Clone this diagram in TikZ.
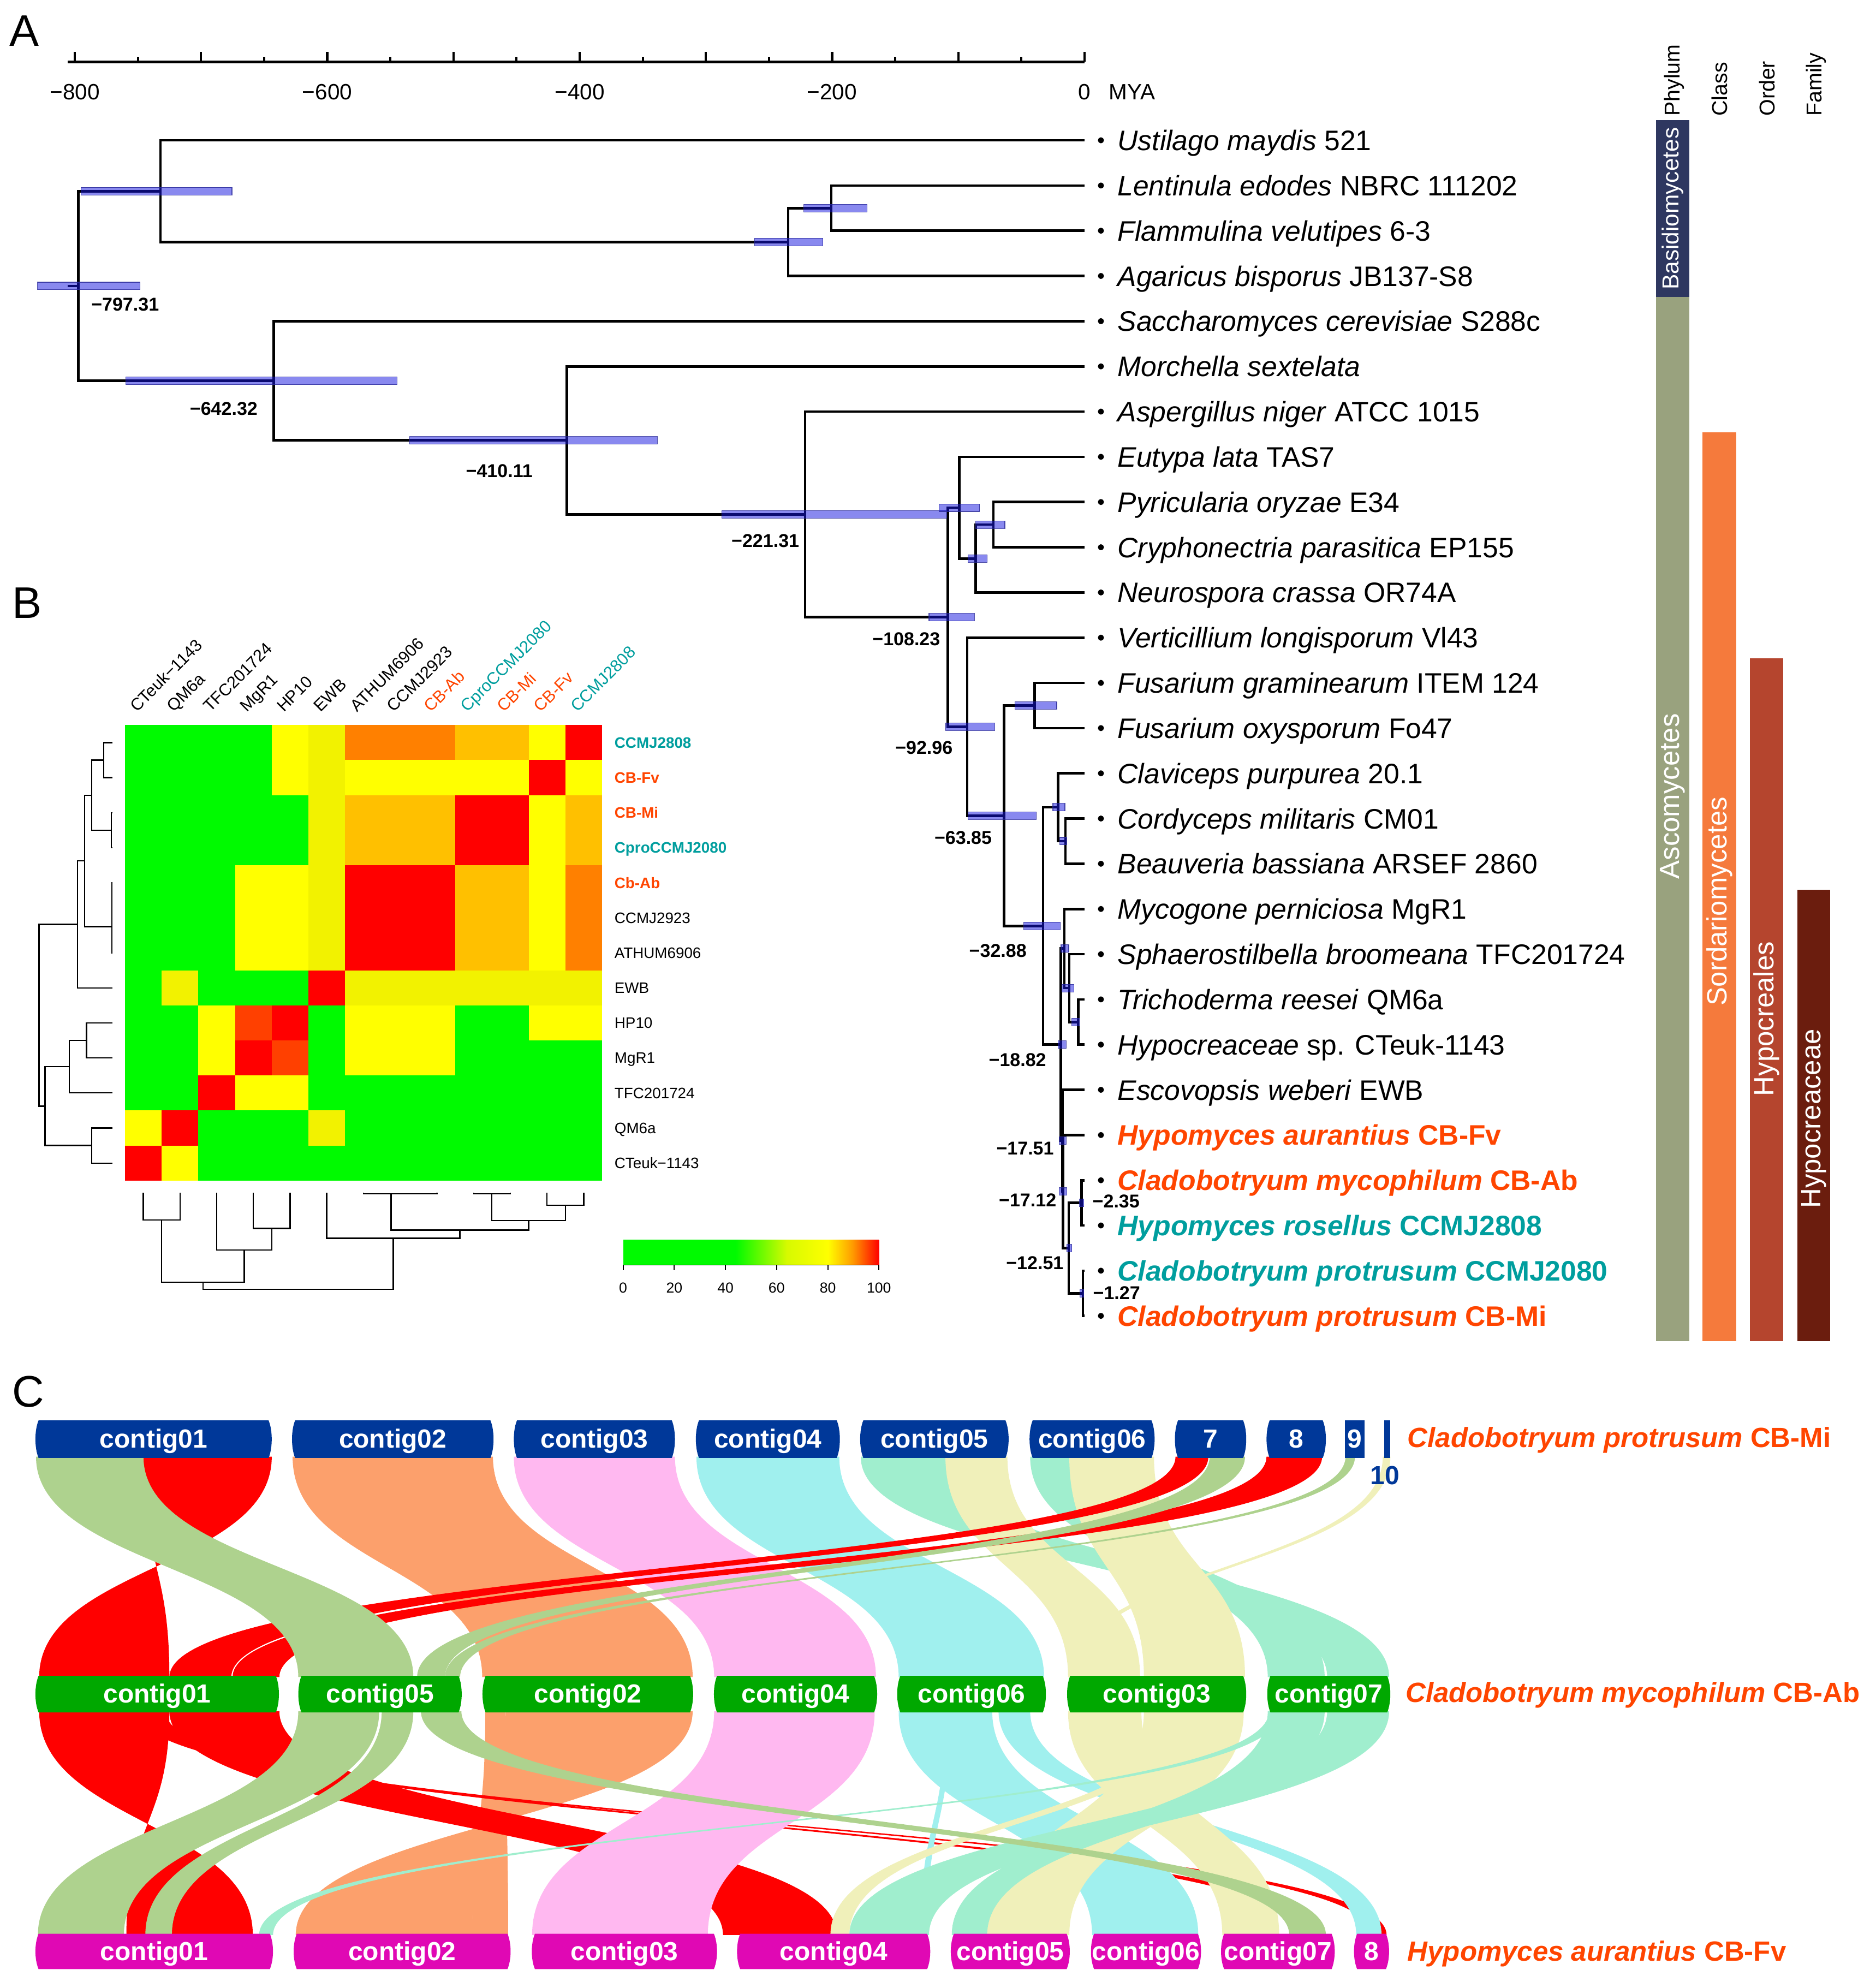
\documentclass[tikz,border=0pt]{standalone}
\usepackage{fontspec}
\setmainfont{Liberation Sans}
\usetikzlibrary{calc}
\definecolor{cbred}{RGB}{255,69,0}
\definecolor{cbteal}{RGB}{0,158,158}
\definecolor{hpdfill}{RGB}{20,20,225}
\definecolor{hpdline}{RGB}{40,40,150}
\definecolor{basid}{RGB}{46,55,96}
\definecolor{ascom}{RGB}{153,162,126}
\definecolor{sorda}{RGB}{245,122,60}
\definecolor{hypal}{RGB}{181,69,46}
\definecolor{hypac}{RGB}{107,29,14}
\definecolor{hmg}{RGB}{0,250,0}
\definecolor{hmy}{RGB}{255,255,0}
\definecolor{hmY}{RGB}{242,242,0}
\definecolor{hmo}{RGB}{255,128,0}
\definecolor{hma}{RGB}{255,192,0}
\definecolor{hmr}{RGB}{255,0,0}
\definecolor{hms}{RGB}{255,64,0}
\definecolor{kyg}{RGB}{215,250,0}
\definecolor{kyo}{RGB}{255,150,0}
\definecolor{chrB}{RGB}{0,56,153}
\definecolor{chrG}{RGB}{0,168,0}
\definecolor{chrM}{RGB}{224,8,180}
\definecolor{rRed}{RGB}{255,0,0}
\definecolor{rSage}{RGB}{174,210,142}
\definecolor{rOra}{RGB}{252,160,108}
\definecolor{rPink}{RGB}{255,184,240}
\definecolor{rCyan}{RGB}{160,240,238}
\definecolor{rMint}{RGB}{160,238,206}
\definecolor{rYel}{RGB}{240,240,186}
\newcommand\fsz[1]{\fontsize{#1pt}{#1pt}\selectfont}
\newcommand\rib[7]{\fill[#1] (#4,#2) .. controls (#4,{(#2+#3)/2}) and (#6,{(#2+#3)/2}) .. (#6,#3) -- (#7,#3) .. controls (#7,{(#2+#3)/2}) and (#5,{(#2+#3)/2}) .. (#5,#2) -- cycle;}
\newcommand\ribA[5]{\rib{#1}{1152.4}{1326.8}{#2}{#3}{#4}{#5}}
\newcommand\ribB[5]{\rib{#1}{1353.7}{1530.8}{#2}{#3}{#4}{#5}}
\newcommand\ctg[7]{\fill[#6] ({#2+2.5},#4) -- ({#3-2.5},#4) .. controls ({#3+0.8},{#4+8}) and ({#3+0.8},{#5-8}) .. ({#3-2.5},#5) -- ({#2+2.5},#5) .. controls ({#2-0.8},{#5-8}) and ({#2-0.8},{#4+8}) .. ({#2+2.5},#4) -- cycle;
\node[ctgtxt] (#1) at ({(#2+#3)/2},{(#4+#5)/2+7}) {#7};}
\newcommand\ctgT[4]{\ctg{#1}{#2}{#3}{1123.7}{1153.4}{chrB}{#4}}
\newcommand\ctgM[4]{\ctg{#1}{#2}{#3}{1325.8}{1354.7}{chrG}{#4}}
\newcommand\ctgB[4]{\ctg{#1}{#2}{#3}{1529.8}{1557.8}{chrM}{#4}}

\begin{document}
\begin{tikzpicture}[x=1pt,y=-1pt,
  branch/.style={line width=2pt},
  hpd/.style={fill=hpdfill, fill opacity=0.5, draw=hpdline, draw opacity=0.8, line width=0.5pt},
  tipl/.style={anchor=base west, inner sep=0, font=\fsz{22.3}},
  tipr/.style={tipl, text=cbred, font=\bfseries\fsz{22.3}},
  tipt/.style={tipl, text=cbteal, font=\bfseries\fsz{22.3}},
  agel/.style={inner sep=0, font=\bfseries\fsz{14.7}},
  axl/.style={inner sep=0, font=\fsz{17.5}},
  panl/.style={anchor=base west, inner sep=0, font=\fsz{35}},
  taxl/.style={rotate=90, text=white, inner sep=0, font=\fsz{22}},
  taxh/.style={rotate=90, anchor=west, inner sep=0, font=\fsz{17}},
  rowl/.style={anchor=base west, inner sep=0, font=\fsz{12}},
  coll/.style={anchor=base west, rotate=45, inner sep=0, font=\fsz{13.3}},
  keyl/.style={anchor=base, inner sep=0, font=\fsz{11.5}},
  dend/.style={line width=1pt},
  ctgtxt/.style={anchor=base, inner sep=0, text=white, font=\bfseries\fsz{20.7}},
  spl/.style={anchor=base west, inner sep=0, text=cbred, font=\bfseries\fsz{22}}]
\useasboundingbox (0,0) rectangle (1484,1568);
\fill[white] (0,0) rectangle (1484,1568);

% ---------------- panel labels
\node[panl] (PA) at (7.5,36.4) {A};
\node[panl] (PB) at (9.5,489) {B};
\node[panl] (PC) at (9.5,1113) {C};

% ---------------- time axis
\draw[line width=2pt] (53.6,49) -- (858,49);
\foreach \t in {-800,-700,...,0} \draw[line width=1.8pt] ({858+\t*0.9985},49) -- ++(0,-8);
\foreach \t in {-750,-650,...,-50} \draw[line width=1.8pt] ({858+\t*0.9985},49) -- ++(0,-4);
\node[axl] (ax8) at (59.2,72.8) {−800};
\node[axl] (ax6) at (258.9,72.8) {−600};
\node[axl] (ax4) at (458.6,72.8) {−400};
\node[axl] (ax2) at (658.3,72.8) {−200};
\node[axl] (ax0) at (858,72.8) {0};
\node[axl, anchor=west] (axm) at (877,72.8) {MYA};

% ---------------- tree coordinates
\coordinate (t1) at (858,111.00);
\coordinate (t2) at (858,146.77);
\coordinate (t3) at (858,182.54);
\coordinate (t4) at (858,218.31);
\coordinate (t5) at (858,254.08);
\coordinate (t6) at (858,289.85);
\coordinate (t7) at (858,325.62);
\coordinate (t8) at (858,361.39);
\coordinate (t9) at (858,397.16);
\coordinate (t10) at (858,432.93);
\coordinate (t11) at (858,468.70);
\coordinate (t12) at (858,504.47);
\coordinate (t13) at (858,540.24);
\coordinate (t14) at (858,576.01);
\coordinate (t15) at (858,611.78);
\coordinate (t16) at (858,647.55);
\coordinate (t17) at (858,683.32);
\coordinate (t18) at (858,719.09);
\coordinate (t19) at (858,754.86);
\coordinate (t20) at (858,790.63);
\coordinate (t21) at (858,826.40);
\coordinate (t22) at (858,862.17);
\coordinate (t23) at (858,897.94);
\coordinate (t24) at (858,933.71);
\coordinate (t25) at (858,969.48);
\coordinate (t26) at (858,1005.25);
\coordinate (t27) at (858,1041.02);
\coordinate (nLF) at (657.7,164.66);
\coordinate (nAg) at (623.6,191.49);
\coordinate (nBa) at (127,151.24);
\coordinate (nR) at (61.9,226.24);
\coordinate (n642) at (216.6,301.24);
\coordinate (n410) at (448.5,348.40);
\coordinate (n221) at (637,406.94);
\coordinate (n108) at (749.9,488.26);
\coordinate (nE) at (759,401.63);
\coordinate (nPCN) at (772,441.87);
\coordinate (nPC) at (786,415.05);
\coordinate (n93) at (765.2,574.90);
\coordinate (n64) at (794.25,645.32);
\coordinate (nFu) at (818.6,558.13);
\coordinate (n33) at (825.2,732.50);
\coordinate (nCl) at (837,638.61);
\coordinate (nCB) at (843,665.44);
\coordinate (n18) at (839.2,826.40);
\coordinate (nMy) at (842,750.39);
\coordinate (nSp) at (846,781.69);
\coordinate (nTH) at (853,808.52);
\coordinate (n17a) at (840.5,902.42);
\coordinate (n17b) at (840.9,942.66);
\coordinate (n12) at (845.5,987.37);
\coordinate (n2) at (855.65,951.60);
\coordinate (n1) at (856.7,1023.14);

\draw[branch] (53.5,226.24) -- (nR);
\foreach \p/\c in {nR/nBa,nR/n642,nBa/t1,nBa/nAg,nAg/nLF,nAg/t4,nLF/t2,nLF/t3,
  n642/t5,n642/n410,n410/t6,n410/n221,n221/t7,n221/n108,n108/nE,n108/n93,
  nE/t8,nE/nPCN,nPCN/nPC,nPCN/t11,nPC/t9,nPC/t10,n93/t12,n93/n64,n64/nFu,n64/n33,
  nFu/t13,nFu/t14,n33/nCl,n33/n18,nCl/t15,nCl/nCB,nCB/t16,nCB/t17,n18/nMy,n18/n17a,
  nMy/t18,nMy/nSp,nSp/t19,nSp/nTH,nTH/t20,nTH/t21,n17a/t22,n17a/n17b,n17b/t23,n17b/n12,
  n12/n2,n12/n1,n2/t24,n2/t25,n1/t26,n1/t27}
  \draw[branch] (\p) |- (\c);

% HPD bars
\foreach \yy/\aa/\bb in {226.24/29.7/110.9,151.24/64/183.5,164.66/636/686,191.49/597/651,
  301.24/99.6/314,348.40/324/520,406.94/571/749,401.63/743/775,415.05/772/795,
  441.87/766/781,488.26/735/771,574.90/748/787,558.13/803/836,645.32/766/820,
  732.50/810/839,638.61/833/842.5,665.44/838.5/844,750.39/839.5/845.5,781.69/840/849.5,
  808.52/848/854,826.40/837/843.5,902.42/838/843.5,942.66/838/844,987.37/844/848,
  951.60/854/857.5,1023.14/854.5/857.5}
  \path[hpd] (\aa,{\yy-3}) rectangle (\bb,{\yy+3});

% age labels
\node[agel] (a1) at (99,241) {−797.31};
\node[agel] (a2) at (177,323.5) {−642.32};
\node[agel] (a3) at (395,372.5) {−410.11};
\node[agel] (a4) at (605.5,428) {−221.31};
\node[agel] (a5) at (717,505.7) {−108.23};
\node[agel] (a6) at (731,591.6) {−92.96};
\node[agel] (a7) at (762,662.7) {−63.85};
\node[agel] (a8) at (789.5,752) {−32.88};
\node[agel] (a9) at (805,838.4) {−18.82};
\node[agel] (a10) at (811,908.7) {−17.51};
\node[agel] (a11) at (813,949.4) {−17.12};
\node[agel] (a12) at (883,950.2) {−2.35};
\node[agel] (a13) at (818.7,999) {−12.51};
\node[agel] (a14) at (883.4,1023) {−1.27};

% tip dots and labels
\foreach \i in {1,...,27} \fill ($(t\i)+(13,0)$) circle (2.4pt);
\node[tipl] (L1) at ($(t1)+(26,8)$) {\textit{Ustilago maydis} 521};
\node[tipl] (L2) at ($(t2)+(26,8)$) {\textit{Lentinula edodes} NBRC 111202};
\node[tipl] (L3) at ($(t3)+(26,8)$) {\textit{Flammulina velutipes} 6-3};
\node[tipl] (L4) at ($(t4)+(26,8)$) {\textit{Agaricus bisporus} JB137-S8};
\node[tipl] (L5) at ($(t5)+(26,8)$) {\textit{Saccharomyces cerevisiae} S288c};
\node[tipl] (L6) at ($(t6)+(26,8)$) {\textit{Morchella sextelata}};
\node[tipl] (L7) at ($(t7)+(26,8)$) {\textit{Aspergillus niger} ATCC 1015};
\node[tipl] (L8) at ($(t8)+(26,8)$) {\textit{Eutypa lata} TAS7};
\node[tipl] (L9) at ($(t9)+(26,8)$) {\textit{Pyricularia oryzae} E34};
\node[tipl] (L10) at ($(t10)+(26,8)$) {\textit{Cryphonectria parasitica} EP155};
\node[tipl] (L11) at ($(t11)+(26,8)$) {\textit{Neurospora crassa} OR74A};
\node[tipl] (L12) at ($(t12)+(26,8)$) {\textit{Verticillium longisporum} Vl43};
\node[tipl] (L13) at ($(t13)+(26,8)$) {\textit{Fusarium graminearum} ITEM 124};
\node[tipl] (L14) at ($(t14)+(26,8)$) {\textit{Fusarium oxysporum} Fo47};
\node[tipl] (L15) at ($(t15)+(26,8)$) {\textit{Claviceps purpurea} 20.1};
\node[tipl] (L16) at ($(t16)+(26,8)$) {\textit{Cordyceps militaris} CM01};
\node[tipl] (L17) at ($(t17)+(26,8)$) {\textit{Beauveria bassiana} ARSEF 2860};
\node[tipl] (L18) at ($(t18)+(26,8)$) {\textit{Mycogone perniciosa} MgR1};
\node[tipl] (L19) at ($(t19)+(26,8)$) {\textit{Sphaerostilbella broomeana} TFC201724};
\node[tipl] (L20) at ($(t20)+(26,8)$) {\textit{Trichoderma reesei} QM6a};
\node[tipl] (L21) at ($(t21)+(26,8)$) {\textit{Hypocreaceae} sp. CTeuk-1143};
\node[tipl] (L22) at ($(t22)+(26,8)$) {\textit{Escovopsis weberi} EWB};
\node[tipr] (L23) at ($(t23)+(26,8)$) {\textit{Hypomyces aurantius} CB-Fv};
\node[tipr] (L24) at ($(t24)+(26,8)$) {\textit{Cladobotryum mycophilum} CB-Ab};
\node[tipt] (L25) at ($(t25)+(26,8)$) {\textit{Hypomyces rosellus} CCMJ2808};
\node[tipt] (L26) at ($(t26)+(26,8)$) {\textit{Cladobotryum protrusum} CCMJ2080};
\node[tipr] (L27) at ($(t27)+(26,8)$) {\textit{Cladobotryum protrusum} CB-Mi};

% ---------------- taxonomy bars
\fill[basid] (1310,95) rectangle (1336.5,235);
\fill[ascom] (1310,235) rectangle (1336.5,1061);
\fill[sorda] (1347,342) rectangle (1373.5,1061);
\fill[hypal] (1384.5,521) rectangle (1410.6,1061);
\fill[hypac] (1422,704) rectangle (1448,1061);
\node[taxl, font=\fsz{18.3}] (xB) at (1323.2,165) {Basidiomycetes};
\node[taxl] (xA) at (1323.2,630) {Ascomycetes};
\node[taxl] (xS) at (1360.2,713) {Sordariomycetes};
\node[taxl] (xH) at (1397.5,806) {Hypocreales};
\node[taxl] (xF) at (1435,885) {Hypocreaceae};
\node[taxh] (hP) at (1324.5,92) {Phylum};
\node[taxh] (hC) at (1360.5,92) {Class};
\node[taxh] (hO) at (1398,92) {Order};
\node[taxh] (hF) at (1437,92) {Family};

% ---------------- heatmap
\foreach \row [count=\i] in {
 {g,g,g,g,y,Y,o,o,o,a,a,y,r},
 {g,g,g,g,y,Y,y,y,y,y,y,r,y},
 {g,g,g,g,g,Y,a,a,a,r,r,y,a},
 {g,g,g,g,g,Y,a,a,a,r,r,y,a},
 {g,g,g,y,y,Y,r,r,r,a,a,y,o},
 {g,g,g,y,y,Y,r,r,r,a,a,y,o},
 {g,g,g,y,y,Y,r,r,r,a,a,y,o},
 {g,Y,g,g,g,r,Y,Y,Y,Y,Y,Y,Y},
 {g,g,y,s,r,g,y,y,y,g,g,y,y},
 {g,g,y,r,s,g,y,y,y,g,g,g,g},
 {g,g,r,y,y,g,g,g,g,g,g,g,g},
 {y,r,g,g,g,Y,g,g,g,g,g,g,g},
 {r,y,g,g,g,g,g,g,g,g,g,g,g}}{
  \foreach \c [count=\j] in \row {
    \fill[fill=hm\c] ({98.8+(\j-1)*29.04},{573.6+(\i-1)*27.72}) rectangle ++(29.5,28.2);
  }
}
\fill[white] (476.3,573) rectangle (478,936);
\fill[white] (98,934) rectangle (478,936);

% row labels
\node[rowl, text=cbteal, font=\bfseries\fsz{12}] (r1) at (486,591.8) {CCMJ2808};
\node[rowl, text=cbred, font=\bfseries\fsz{12}] (r2) at (486,619.5) {CB-Fv};
\node[rowl, text=cbred, font=\bfseries\fsz{12}] (r3) at (486,647.2) {CB-Mi};
\node[rowl, text=cbteal, font=\bfseries\fsz{12}] (r4) at (486,674.9) {CproCCMJ2080};
\node[rowl, text=cbred, font=\bfseries\fsz{12}] (r5) at (486,702.6) {Cb-Ab};
\node[rowl] (r6) at (486,730.4) {CCMJ2923};
\node[rowl] (r7) at (486,758.1) {ATHUM6906};
\node[rowl] (r8) at (486,785.8) {EWB};
\node[rowl] (r9) at (486,813.5) {HP10};
\node[rowl] (r10) at (486,841.2) {MgR1};
\node[rowl] (r11) at (486,869.0) {TFC201724};
\node[rowl] (r12) at (486,896.7) {QM6a};
\node[rowl] (r13) at (486,924.4) {CTeuk−1143};

% column labels
\node[coll] (c1) at (108.3,564) {CTeuk−1143};
\node[coll] (c2) at (137.4,564) {QM6a};
\node[coll] (c3) at (166.4,564) {TFC201724};
\node[coll] (c4) at (195.4,564) {MgR1};
\node[coll] (c5) at (224.5,564) {HP10};
\node[coll] (c6) at (253.5,564) {EWB};
\node[coll] (c7) at (282.6,564) {ATHUM6906};
\node[coll] (c8) at (311.6,564) {CCMJ2923};
\node[coll, text=cbred] (c9) at (340.7,564) {CB-Ab};
\node[coll, text=cbteal] (c10) at (369.7,564) {CproCCMJ2080};
\node[coll, text=cbred] (c11) at (398.7,564) {CB-Mi};
\node[coll, text=cbred] (c12) at (427.8,564) {CB-Fv};
\node[coll, text=cbteal] (c13) at (456.8,564) {CCMJ2808};

% row dendrogram
\draw[dend] (89,587.46) -- (82,587.46) -- (82,615.18) -- (89,615.18);
\draw[dend] (89,642.9) -- (88,642.9) -- (88,670.62) -- (89,670.62);
\draw[dend] (82,601.3) -- (72.6,601.3) -- (72.6,656.8) -- (88,656.8);
\draw[dend] (89,698.34) -- (88.6,698.34) -- (88.6,753.78) -- (89,753.78);
\draw[dend] (89,726.06) -- (88.6,726.06);
\draw[dend] (72.6,629.05) -- (67,629.05) -- (67,733) -- (88.6,733);
\draw[dend] (67,681) -- (61.3,681) -- (61.3,781.5) -- (89,781.5);
\draw[dend] (89,809.22) -- (68.4,809.22) -- (68.4,836.94) -- (89,836.94);
\draw[dend] (68.4,823.1) -- (54.8,823.1) -- (54.8,864.66) -- (89,864.66);
\draw[dend] (89,892.38) -- (72.6,892.38) -- (72.6,920.1) -- (89,920.1);
\draw[dend] (54.8,843.9) -- (35.6,843.9) -- (35.6,906.24) -- (72.6,906.24);
\draw[dend] (61.3,731.25) -- (30.9,731.25) -- (30.9,875.07) -- (35.6,875.07);
% column dendrogram
\draw[dend] (113.3,943.7) -- (113.3,965) -- (142.4,965) -- (142.4,943.7);
\draw[dend] (200.4,943.7) -- (200.4,971.9) -- (229.5,971.9) -- (229.5,943.7);
\draw[dend] (171.4,943.7) -- (171.4,988.9) -- (214.95,988.9) -- (214.95,971.9);
\draw[dend] (127.85,965) -- (127.85,1014.3) -- (193.2,1014.3) -- (193.2,988.9);
\draw[dend] (287.6,943.7) -- (287.6,944.5) -- (345.7,944.5) -- (345.7,943.7);
\draw[dend] (374.7,943.7) -- (374.7,944.5) -- (403.7,944.5) -- (403.7,943.7);
\draw[dend] (432.8,943.7) -- (432.8,953.4) -- (461.8,953.4) -- (461.8,943.7);
\draw[dend] (389.2,944.5) -- (389.2,965.7) -- (447.3,965.7) -- (447.3,953.4);
\draw[dend] (309.4,944.5) -- (309.4,973.1) -- (418.25,973.1) -- (418.25,965.7);
\draw[dend] (258.5,943.7) -- (258.5,979.6) -- (363.8,979.6) -- (363.8,973.1);
\draw[dend] (160.5,1014.3) -- (160.5,1020) -- (311.2,1020) -- (311.2,979.6);

% colour key
\fill[hmg] (493,980.8) rectangle (582.5,1000.8);
\shade[left color=hmg, right color=kyg] (582,980.8) rectangle (622.8,1000.8);
\shade[left color=kyg, right color=hmy] (622.5,980.8) rectangle (655.3,1000.8);
\shade[left color=hmy, right color=kyo] (655,980.8) rectangle (675.5,1000.8);
\shade[left color=kyo, right color=hmr] (675.2,980.8) rectangle (695.4,1000.8);
\draw[line width=0.8pt] (493,1000.8) -- (695.4,1000.8);
\foreach \p in {0,20,...,100} \draw[line width=0.8pt] ({493+\p*2.024},1000.8) -- ++(0,4);
\node[keyl] (k0) at (493,1023) {0};
\node[keyl] (k20) at (533.5,1023) {20};
\node[keyl] (k40) at (574,1023) {40};
\node[keyl] (k60) at (614.4,1023) {60};
\node[keyl] (k80) at (654.9,1023) {80};
\node[keyl] (k100) at (695.4,1023) {100};

% ---------------- panel C ribbons: top -> middle
\ribA{rOra}{231.5}{390}{381.5}{548}
\ribA{rPink}{406.5}{534}{565}{693}
\ribA{rCyan}{551}{664}{711}{826}
\ribA{rMint}{681}{748}{1050}{1099}
\ribA{rMint}{815}{846}{1003}{1048}
\ribA{rYel}{748}{797}{845}{902}
\ribA{rYel}{846}{913}{905}{985}
\ribA{rYel}{1094}{1100}{845}{851}
\ribA{rRed}{113.5}{215}{134}{31}
\ribA{rRed}{930}{956}{134}{183}
\ribA{rRed}{1002}{1046}{184}{221}
\ribA{rSage}{28.5}{113.5}{236}{327}
\ribA{rSage}{957}{985}{330}{352}
\ribA{rSage}{1064.5}{1072}{352}{364}
% middle -> bottom
\ribB{rOra}{400}{548}{374}{234}
\ribB{rOra}{384}{400}{374}{402}
\ribB{rRed}{31}{134}{200}{100}
\ribB{rRed}{134}{221}{572}{662}
\ribB{rRed}{118}{131}{1030}{1044}
\ribB{rRed}{108}{121}{1086}{1097}
\ribB{rPink}{565}{692}{421}{560}
\ribB{rCyan}{711}{785}{864}{948}
\ribB{rCyan}{790}{815}{1073}{1093}
\ribB{rCyan}{748}{752}{728}{733}
\ribB{rYel}{845}{903}{967}{1012}
\ribB{rYel}{905}{984}{781}{846}
\ribB{rYel}{930}{942}{657}{672}
\ribB{rMint}{1003}{1048}{753}{781}
\ribB{rMint}{1050}{1099}{672}{735}
\ribB{rMint}{1004}{1014}{205}{216}
\ribB{rSage}{236}{300}{30}{98}
\ribB{rSage}{302}{327}{115}{136}
\ribB{rSage}{333}{365}{1020}{1049}

% ---------------- contig boxes
\ctgT{T1}{28}{215}{contig01}
\ctgT{T2}{231}{390.5}{contig02}
\ctgT{T3}{406.5}{534}{contig03}
\ctgT{T4}{550.5}{664.5}{contig04}
\ctgT{T5}{680.5}{798}{contig05}
\ctgT{T6}{814.5}{913.5}{contig06}
\ctgT{T7}{929.5}{986}{7}
\ctgT{T8}{1002}{1049}{8}
\fill[chrB] (1064,1123.7) rectangle (1079.5,1153.4);
\node[ctgtxt] (T9) at (1071.75,1145.5) {9};
\fill[chrB] (1095,1123.7) rectangle (1100,1153.4);
\node[ctgtxt, text=chrB] (T10) at (1095.7,1174.5) {10};

\ctgM{M1}{28}{220.7}{contig01}
\ctgM{M5}{236}{365.3}{contig05}
\ctgM{M2}{381.7}{548.4}{contig02}
\ctgM{M4}{564.8}{694}{contig04}
\ctgM{M6}{709.8}{827.5}{contig06}
\ctgM{M3}{844.2}{986}{contig03}
\ctgM{M7}{1002.6}{1100}{contig07}

\ctgB{B1}{28}{216}{contig01}
\ctgB{B2}{232.3}{404}{contig02}
\ctgB{B3}{420.7}{567.3}{contig03}
\ctgB{B4}{583.1}{736}{contig04}
\ctgB{B5}{752.2}{846.4}{contig05}
\ctgB{B6}{863.1}{950.2}{contig06}
\ctgB{B7}{966}{1056}{contig07}
\ctgB{B8}{1071.2}{1099}{8}

\node[spl] (S1) at (1113.4,1145) {\textit{Cladobotryum protrusum} CB-Mi};
\node[spl] (S2) at (1111.9,1346.5) {\textit{Cladobotryum mycophilum} CB-Ab};
\node[spl] (S3) at (1113.4,1551.3) {\textit{Hypomyces aurantius} CB-Fv};
\end{tikzpicture}
\end{document}
